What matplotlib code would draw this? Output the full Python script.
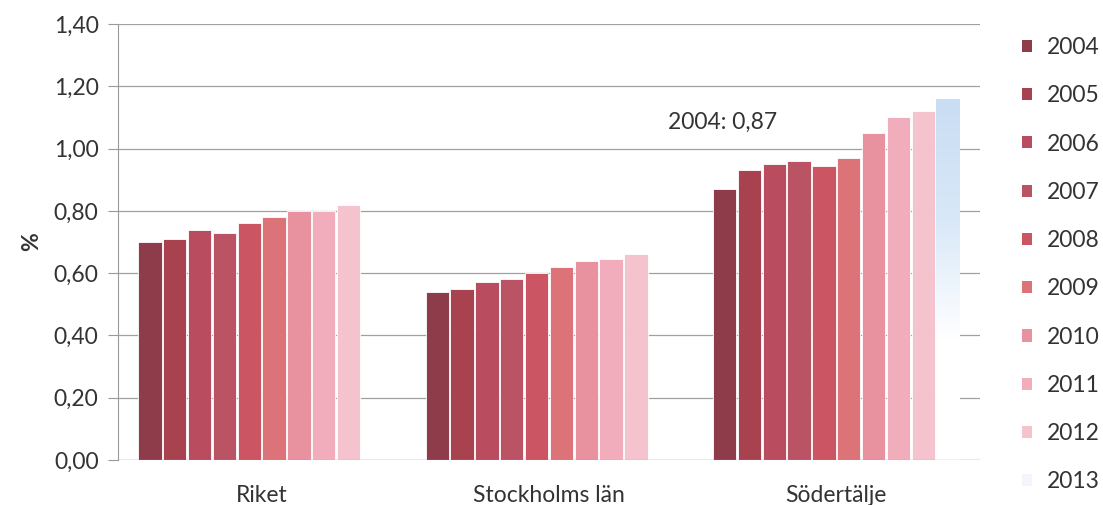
import numpy as np
import matplotlib
matplotlib.use("Agg")
import matplotlib.pyplot as plt
from matplotlib.patches import Patch
from matplotlib.colors import LinearSegmentedColormap

categories = ["Riket", "Stockholms län", "Södertälje"]
years = ["2004", "2005", "2006", "2007", "2008", "2009", "2010", "2011", "2012", "2013"]
riket = [0.70, 0.71, 0.74, 0.73, 0.76, 0.78, 0.80, 0.80, 0.82, np.nan]
stockholm = [0.54, 0.55, 0.57, 0.58, 0.60, 0.62, 0.64, 0.645, 0.66, np.nan]
sodertalje = [0.87, 0.93, 0.95, 0.96, 0.945, 0.97, 1.05, 1.10, 1.12, 1.16]
colors = ["#8E3B4A", "#A8424F", "#B94C5E", "#BA5363", "#CB5563", "#DB7379",
          "#E8919F", "#F1ADBB", "#F5C3CE", "#D8E8F8"]
yticks = [0.0, 0.2, 0.4, 0.6, 0.8, 1.0, 1.2, 1.4]

plt.rcParams['font.family'] = ['Lato', 'DejaVu Sans']
FS = 16.5
fig = plt.figure(figsize=(11.03, 5.05), dpi=100)
ax = fig.add_axes([118/1103, 45/505, (980-118)/1103, (460-24)/505])

data = np.array([riket, stockholm, sodertalje])
slot = 0.0864
width = 0.081
x = np.arange(len(categories))
for i, yr in enumerate(years):
    pos = x + (i - 4.5) * slot
    vals = data[:, i]
    if i == len(years) - 1:
        bars = ax.bar(pos, vals, width, color="none", edgecolor="none", zorder=3)
        cmap = LinearSegmentedColormap.from_list("g", ["#FFFFFF", "#FFFFFF", colors[i], "#C9DDF3"])
        for b in bars:
            h = b.get_height()
            if np.isnan(h):
                continue
            grad = np.linspace(0, 1, 256).reshape(-1, 1)
            im = ax.imshow(grad, cmap=cmap, origin="lower", aspect="auto",
                           extent=[b.get_x(), b.get_x() + b.get_width(), 0, h], zorder=3)
            im.set_clip_path(b)
    else:
        ax.bar(pos, vals, width, color=colors[i], edgecolor="white", linewidth=0.6, zorder=3)

ax.set_xlim(-0.5, 2.5)
ax.set_ylim(0, 1.4)
ax.set_yticks(yticks)
ax.set_yticklabels([f"{v:.2f}".replace(".", ",") for v in yticks], fontsize=FS, color="#333333")
ax.set_xticks(x)
ax.set_xticklabels(categories, fontsize=FS, color="#333333")
ax.tick_params(axis="x", length=0, pad=18)
ax.tick_params(axis="y", length=7, color="#999999", pad=7)
ax.yaxis.grid(True, color="#A0A0A0", linewidth=0.9, zorder=0)
for s in ["top", "right", "bottom"]:
    ax.spines[s].set_visible(False)
ax.spines["left"].set_color("#999999")
ax.axhline(0, color="#A0A0A0", linewidth=0.9, zorder=4)
ax.set_ylabel("%", fontsize=FS, fontweight="bold", color="#333333", labelpad=8)

ax.text(1.414, 1.085, "2004: " + f"{sodertalje[0]:.2f}".replace(".", ","),
        fontsize=FS, color="#333333", va="center")

handles = [Patch(facecolor=c, edgecolor="none") for c in colors]
handles[-1] = Patch(facecolor="#F2F6FB", edgecolor="none")
fig.legend(handles, years, loc="upper left", bbox_to_anchor=(1001/1103, 488.6/505),
           frameon=False, fontsize=FS, labelspacing=1.19, handlelength=0.44,
           handleheight=0.44, handletextpad=0.65, labelcolor="#333333")

fig.savefig("out.png", dpi=100, facecolor="white")
